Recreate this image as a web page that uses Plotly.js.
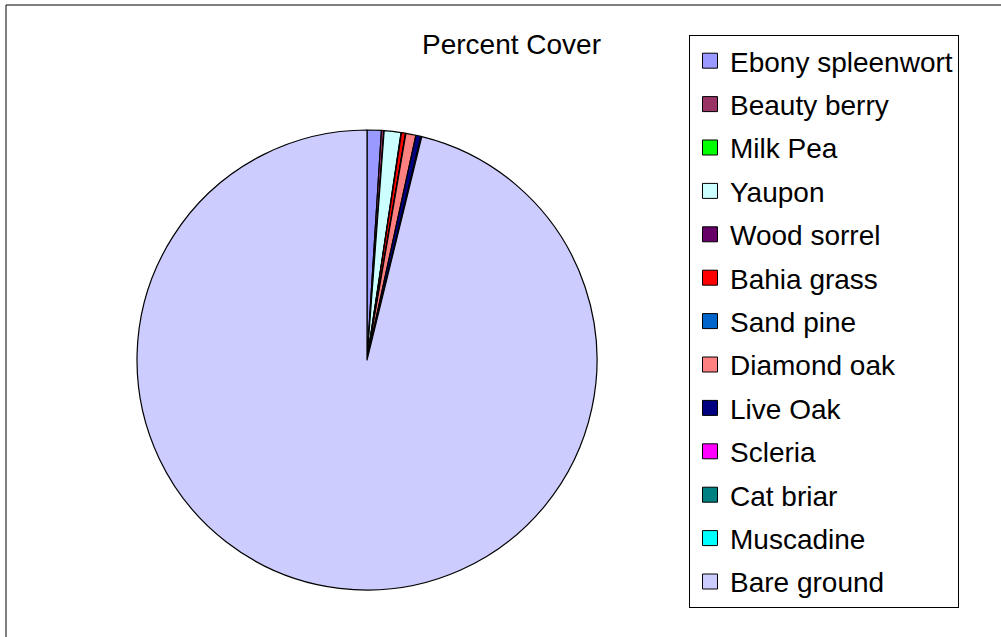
<!DOCTYPE html>
<html>
<head>
<meta charset="utf-8">
<script src="https://cdn.plot.ly/plotly-3.0.1.min.js"></script>
<style>html,body{margin:0;padding:0;background:#fff;}#chart{width:1001px;height:637px;}</style>
</head>
<body>
<div id="chart"></div>
<script>
const categories = ["Ebony spleenwort","Beauty berry","Milk Pea","Yaupon","Wood sorrel","Bahia grass","Sand pine","Diamond oak","Live Oak","Scleria","Cat briar","Muscadine","Bare ground"];
const percentCover = [1.0, 0.17, 0.02, 1.18, 0.03, 0.28, 0.03, 0.7, 0.36, 0.02, 0.02, 0.02, 96.2];
const sliceColors = ["#9999FF","#993366","#00FF00","#CCFFFF","#660066","#FF0000","#0066CC","#FF8080","#000080","#FF00FF","#008080","#00FFFF","#CCCCFF"];

const W = 1001, H = 637;
const FONT = "Liberation Sans, Arial, sans-serif";

const traces = [{
  type: "pie",
  labels: categories,
  values: percentCover,
  sort: false,
  direction: "clockwise",
  rotation: 0,
  marker: {colors: sliceColors, line: {color: "#000", width: 1.2}},
  textinfo: "none",
  hoverinfo: "label+value",
  showlegend: false,
  domain: {x: [137/W, 597/W], y: [1 - 590/H, 1 - 130/H]}
}];

categories.forEach((c, i) => {
  traces.push({
    type: "scatter",
    x: [null], y: [null],
    mode: "markers",
    name: c,
    legendgroup: "g" + i,
    marker: {symbol: "square", size: 15, color: sliceColors[i], line: {color: "#000", width: 1}},
    showlegend: true,
    hoverinfo: "skip"
  });
});

const layout = {
  width: W, height: H,
  margin: {l: 0, r: 0, t: 0, b: 0},
  paper_bgcolor: "#fff",
  plot_bgcolor: "rgba(0,0,0,0)",
  font: {family: FONT, color: "#000"},
  title: {text: "Percent Cover", font: {family: FONT, size: 28, color: "#000"},
          x: 511.5/W, xanchor: "center", xref: "paper", y: 1 - 44/H, yanchor: "middle", yref: "paper"},
  xaxis: {visible: false, fixedrange: true},
  yaxis: {visible: false, fixedrange: true},
  showlegend: true,
  legend: {
    x: 689/W, y: 1 - 35/H, xanchor: "left", yanchor: "top",
    bgcolor: "#fff", bordercolor: "#000", borderwidth: 1,
    font: {family: FONT, size: 28, color: "#000"},
    entrywidth: 238, entrywidthmode: "pixels",
    traceorder: "grouped", tracegroupgap: 4, itemclick: false, itemdoubleclick: false
  },
  shapes: [{
    type: "rect", xref: "paper", yref: "paper",
    x0: 6/W, x1: 1.02, y0: -0.02, y1: 1 - 5/H,
    line: {color: "#000", width: 1}, fillcolor: "rgba(0,0,0,0)", layer: "below"
  }]
};

Plotly.newPlot("chart", traces, layout, {displayModeBar: false, staticPlot: true});
</script>
</body>
</html>
